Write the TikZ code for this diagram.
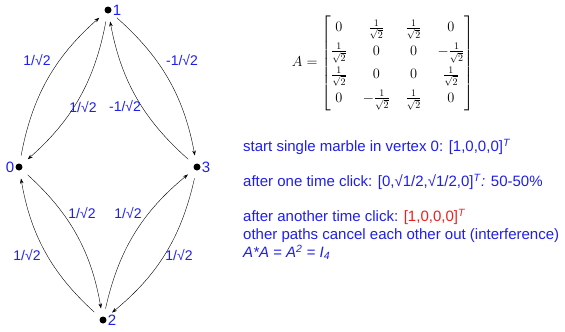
\documentclass[tikz,border=0pt]{standalone}
\usepackage{amsmath}
\usepackage{fontspec}
\newfontfamily\qfont{Liberation Sans}
\usepackage{tikz}
\usetikzlibrary{arrows.meta,positioning}
\definecolor{qblue}{RGB}{30,30,240}
\definecolor{qred}{RGB}{240,30,30}

\begin{document}
\begin{tikzpicture}[x=1pt,y=-1pt,
    vtx/.style={circle,fill=black,inner sep=0pt,minimum size=7pt},
    vlbl/.style={text=qblue,font=\qfont\fontsize{15}{17}\selectfont,inner sep=1pt},
    lbl/.style={text=qblue,font=\qfont\fontsize{14}{16}\selectfont,inner sep=0pt},
    txt/.style={text=qblue,font=\qfont\fontsize{15}{17}\selectfont,anchor=base west,inner sep=0pt},
    edg/.style={-{Stealth[length=5pt,width=3.5pt]},line width=0.4pt,shorten >=8pt,shorten <=8pt}]
  \useasboundingbox (0,0) rectangle (565,332);
  % vertices
  \node[vtx,label={[vlbl]right:1}] (v1) at (108,10) {};
  \node[vtx,label={[vlbl]left:0}] (v0) at (19,167) {};
  \node[vtx,label={[vlbl]right:3}] (v3) at (197,167) {};
  \node[vtx,label={[vlbl]right:2}] (v2) at (103,320) {};
  % edges
  \foreach \a/\b in {v0/v1,v1/v0,v1/v3,v3/v1,v0/v2,v2/v0,v2/v3,v3/v2}
    \draw[edg] (\a) to[bend left=19] (\b);
  % amplitudes
  \node[lbl] (a01) at (37,60) {1/√2};
  \node[lbl] (a10) at (83,107) {1/√2};
  \node[lbl] (a31) at (125,106) {-1/√2};
  \node[lbl] (a13) at (182,60) {-1/√2};
  \node[lbl] (a02) at (82,213) {1/√2};
  \node[lbl] (a23) at (128,213) {1/√2};
  \node[lbl] (a20) at (27,255) {1/√2};
  \node[lbl] (a32) at (179,255) {1/√2};
  % matrix
  \node[font=\fontsize{14}{17}\selectfont] (mat) at (383,63)
    {$A=\renewcommand{\arraystretch}{1.33}\setlength{\arraycolsep}{8pt}%
     \begin{bmatrix}
       0 & \frac{1}{\sqrt{2}} & \frac{1}{\sqrt{2}} & 0\\
       \frac{1}{\sqrt{2}} & 0 & 0 & -\frac{1}{\sqrt{2}}\\
       \frac{1}{\sqrt{2}} & 0 & 0 & \frac{1}{\sqrt{2}}\\
       0 & -\frac{1}{\sqrt{2}} & \frac{1}{\sqrt{2}} & 0
     \end{bmatrix}$};
  % text
  \node[txt] (t1) at (243,151.5) {start single marble in vertex 0: [1,0,0,0]\textsuperscript{\textit{T}}};
  \node[txt] (t2) at (243,186.5) {after one time click: [0,√1/2,√1/2,0]\textsuperscript{\textit{T}}\textit{:} 50-50\%};
  \node[txt] (t3) at (243,221.5) {after another time click: \textcolor{qred}{[1,0,0,0]\textsuperscript{\textit{T}}}};
  \node[txt] (t4) at (243,239.5) {other paths cancel each other out (interference)};
  \node[txt] (t5) at (243,257.5) {\textit{A*A = A\textsuperscript{2} = I\textsubscript{4}}};
\end{tikzpicture}
\end{document}
